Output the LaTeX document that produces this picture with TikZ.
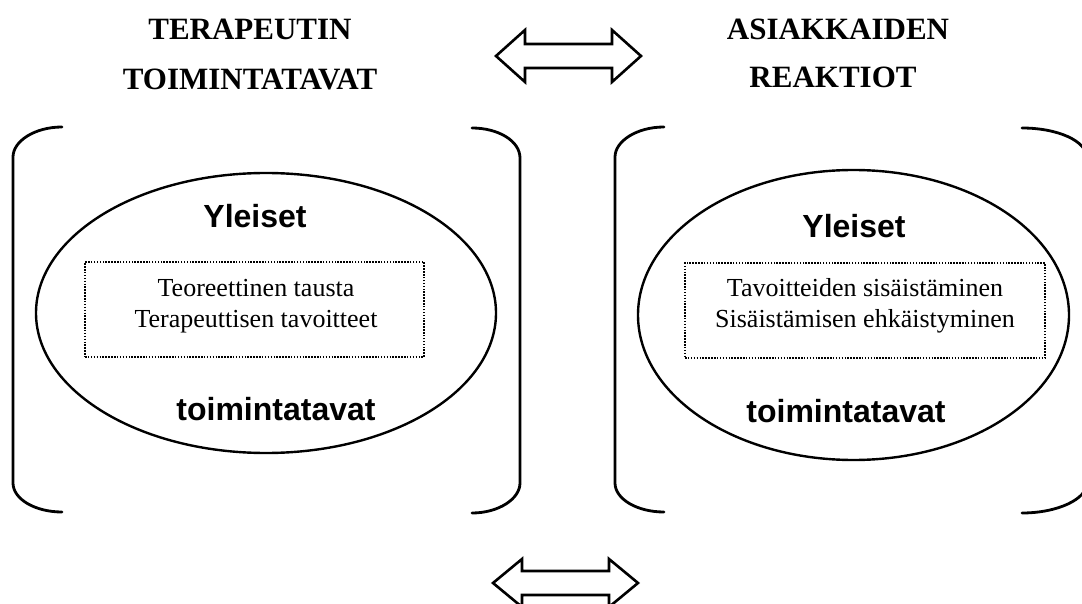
\documentclass[tikz,border=0pt]{standalone}
\usepackage{fontspec}
\setmainfont{Liberation Serif}
\setsansfont{Liberation Sans}
\usetikzlibrary{shapes.geometric, calc}

\begin{document}
\begin{tikzpicture}[
    x=1pt, y=-1pt,
    heading/.style={font=\fontsize{31}{31}\selectfont\bfseries, anchor=base, inner sep=0pt},
    label/.style={font=\fontsize{32}{32}\selectfont\sffamily\bfseries, anchor=base, inner sep=0pt},
    body/.style={font=\fontsize{26}{31}\selectfont, align=center, inner sep=0pt},
    oval/.style={ellipse, draw, line width=2.4pt, inner sep=0pt},
    dotbox/.style={rectangle, draw, line width=1.6pt, dash pattern=on 1.5pt off 1.4pt, inner sep=0pt},
    bracket/.style={line width=2.8pt, line cap=round},
    dblarrow/.style={line width=2.6pt, line join=miter}
  ]
    \useasboundingbox (0,0) rectangle (1082,604);

    % headings
    \node[heading] (tTop) at (250,40) {TERAPEUTIN};
    \node[heading] (tBot) at (250,90) {TOIMINTATAVAT};
    \node[heading] (aTop) at (838,40) {ASIAKKAIDEN};
    \node[heading] (aBot) at (833,88) {REAKTIOT};

    % double arrows
    \foreach \x/\y/\h in {496/56/26, 493/583/24} {
      \draw[dblarrow] (\x,\y) -- ({\x+29},{\y-\h}) -- ({\x+29},{\y-12})
        -- ({\x+116},{\y-12}) -- ({\x+116},{\y-\h}) -- ({\x+145},\y)
        -- ({\x+116},{\y+\h}) -- ({\x+116},{\y+12}) -- ({\x+29},{\y+12})
        -- ({\x+29},{\y+\h}) -- cycle;
    }

    % brackets
    \foreach \l/\r/\w in {13/520/48, 615/1087/65} {
      \draw[bracket] ({\l+49},127) .. controls ({\l+22},127) and (\l,141) .. (\l,157)
        -- (\l,483) .. controls (\l,499) and ({\l+22},512) .. ({\l+49},512);
      \draw[bracket] ({\r-\w},128) .. controls ({\r-0.45*\w},128) and (\r,141) .. (\r,158)
        -- (\r,483) .. controls (\r,499) and ({\r-0.45*\w},513) .. ({\r-\w},513);
    }

    % therapist side
    \node[oval, minimum width=460, minimum height=280] (ovalT) at (266,313) {};
    \node[dotbox, minimum width=339, minimum height=95] (boxT) at (254.5,309.5) {};
    \node[label] (genT) at (255,228) {Yleiset};
    \node[body] (txtT) at (256,306) {Teoreettinen tausta\\Terapeuttisen tavoitteet};
    \node[label] (wayT) at (276,420) {toimintatavat};

    % client side
    \node[oval, minimum width=431, minimum height=290] (ovalA) at (853.5,315) {};
    \node[dotbox, minimum width=360, minimum height=95] (boxA) at (865,310.5) {};
    \node[label] (genA) at (854,238) {Yleiset};
    \node[body] (txtA) at (865,306) {Tavoitteiden sisäistäminen\\Sisäistämisen ehkäistyminen};
    \node[label] (wayA) at (846,422) {toimintatavat};
  \end{tikzpicture}
\end{document}
